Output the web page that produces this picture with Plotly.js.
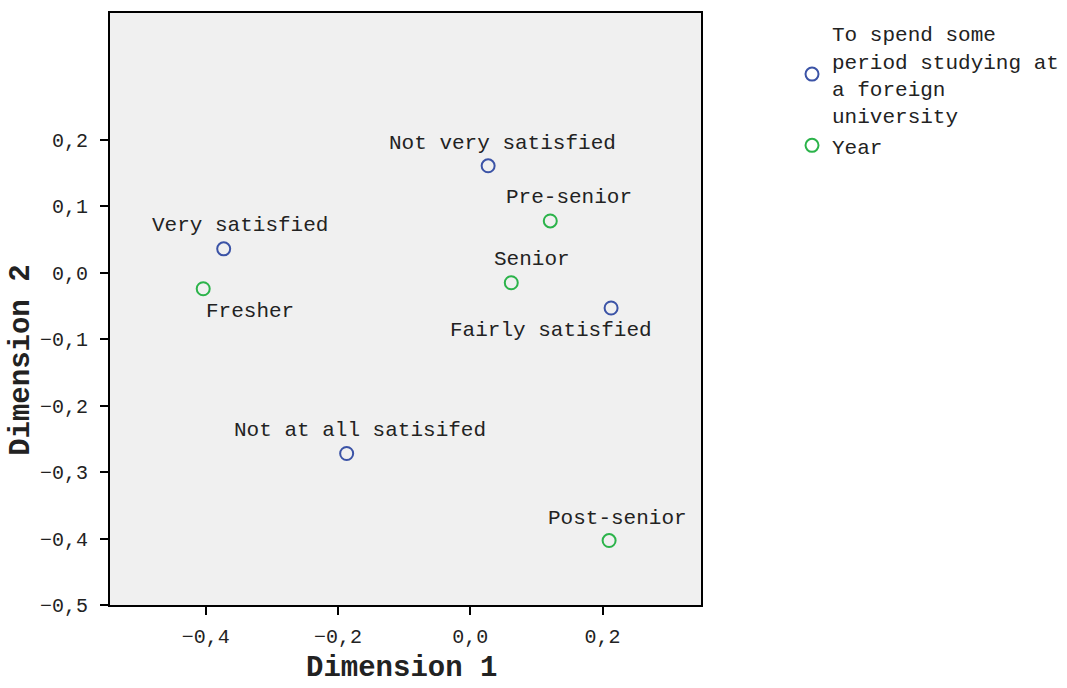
<!DOCTYPE html>
<html><head><meta charset="utf-8">
<script src="https://cdn.plot.ly/plotly-3.0.1.min.js"></script>
<style>body{margin:0;background:#fff}</style>
</head><body><div id="chart" style="width:1067px;height:688px"></div>
<script>
// Data
const studyLabels = ["Very satisfied", "Not very satisfied", "Fairly satisfied", "Not at all satisifed"];
const studyDim1 = [-0.373, 0.027, 0.213, -0.187];
const studyDim2 = [0.036, 0.161, -0.053, -0.272];

const yearLabels = ["Fresher", "Pre-senior", "Senior", "Post-senior"];
const yearDim1 = [-0.404, 0.121, 0.062, 0.210];
const yearDim2 = [-0.024, 0.078, -0.015, -0.403];

const xTickVals = [-0.4, -0.2, 0.0, 0.2];
const yTickVals = [0.2, 0.1, 0.0, -0.1, -0.2, -0.3, -0.4, -0.5];

// label placement (pixel shifts from point)
const studyShift = [[16, -23], [14, -22], [-60, 22], [13, -23]];
const yearShift = [[47, 23], [19, -23], [21, -23], [8, -22]];

const FONT = "Liberation Mono, Courier New, monospace";
const BLUE = "#3b53a6";
const GREEN = "#2bb34a";

const traces = [
  {x: studyDim1, y: studyDim2, mode: "markers", type: "scatter",
   name: "To spend some<br>period studying at<br>a foreign<br>university",
   marker: {symbol: "circle-open", size: 13, color: BLUE, line: {width: 2, color: BLUE}},
   hoverinfo: "skip"},
  {x: yearDim1, y: yearDim2, mode: "markers", type: "scatter", name: "Year",
   marker: {symbol: "circle-open", size: 13, color: GREEN, line: {width: 2, color: GREEN}},
   hoverinfo: "skip"}
];

const annotations = [];
function addLabels(xs, ys, labels, shifts) {
  labels.forEach((t, i) => annotations.push({
    x: xs[i], y: ys[i], xref: "x", yref: "y", text: t, showarrow: false,
    xshift: shifts[i][0], yshift: -shifts[i][1],
    font: {family: FONT, size: 21, color: "#222"}
  }));
}
addLabels(studyDim1, studyDim2, studyLabels, studyShift);
addLabels(yearDim1, yearDim2, yearLabels, yearShift);

// axis titles placed like the original
annotations.push({
  text: "<b>Dimension 2</b>", xref: "paper", yref: "paper", x: -0.149, y: 0.414,
  xanchor: "center", yanchor: "middle", textangle: -90, showarrow: false,
  font: {family: FONT, size: 29, color: "#222"}
});
annotations.push({
  text: "<b>Dimension 1</b>", xref: "paper", yref: "paper", x: 0.494, y: -0.108,
  xanchor: "center", yanchor: "middle", showarrow: false,
  font: {family: FONT, size: 29, color: "#222"}
});

const layout = {
  width: 1067, height: 688,
  margin: {l: 110, r: 366, t: 13, b: 83, autoexpand: false},
  paper_bgcolor: "#ffffff", plot_bgcolor: "#f0f0f0",
  separators: ", ",
  font: {family: FONT, color: "#222"},
  showlegend: true,
  legend: {x: 1.154, y: 1.0, xanchor: "left", yanchor: "top",
    font: {family: FONT, size: 21, color: "#222"}, itemwidth: 30, tracegroupgap: 4, valign: "middle"},
  xaxis: {range: [-0.545, 0.349], tickvals: xTickVals, tickformat: ".1f",
    showgrid: false, zeroline: false, showline: true, linecolor: "#000", linewidth: 2, mirror: true,
    ticks: "outside", ticklen: 8, tickwidth: 2, tickcolor: "#000", ticklabelstandoff: 4,
    tickfont: {family: FONT, size: 20, color: "#222"},
    title: {text: ""}},
  yaxis: {range: [-0.5, 0.391], tickvals: yTickVals, tickformat: ".1f",
    showgrid: false, zeroline: false, showline: true, linecolor: "#000", linewidth: 2, mirror: true,
    ticks: "outside", ticklen: 8, tickwidth: 2, tickcolor: "#000", ticklabelstandoff: 8,
    tickfont: {family: FONT, size: 20, color: "#222"},
    title: {text: ""}},
  annotations: annotations
};

Plotly.newPlot("chart", traces, layout, {displayModeBar: false, staticPlot: true});
</script></body></html>
